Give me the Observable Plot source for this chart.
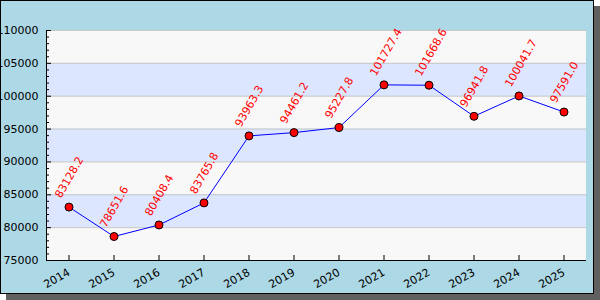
<!DOCTYPE html>
<html>
<head>
<meta charset="utf-8">
<script src="https://cdn.jsdelivr.net/npm/d3@7"></script>
<script src="https://cdn.jsdelivr.net/npm/@observablehq/plot@0.6"></script>
<style>
  html, body { margin: 0; padding: 0; background: #ffffff; }
  #wrap { position: relative; width: 600px; height: 300px; overflow: hidden; }
  #bg { position: absolute; left: 0; top: 0; width: 592px; height: 292px;
        border: 1px solid #000; background: #add8e6; box-shadow: 6px 6px 0 #606060; }
  #chart { position: absolute; left: 0; top: 0; }
</style>
</head>
<body>
<div id="wrap"><div id="bg"></div><div id="chart"></div></div>
<script>
const years = [2014, 2015, 2016, 2017, 2018, 2019, 2020, 2021, 2022, 2023, 2024, 2025];
const values = [83128.2, 78651.6, 80408.4, 83765.8, 93963.3, 94461.2, 95227.8, 101727.4, 101668.6, 96941.8, 100041.7, 97591.0];
const yTicks = [75000, 80000, 85000, 90000, 95000, 100000, 105000, 110000];
const yMinorTicks = d3.range(75000, 110001, 1000).filter(v => v % 5000 !== 0);
const bandColors = ["#f8f8f8", "#dde6ff"];

const data = years.map((year, i) => ({year, value: values[i]}));
const bands = yTicks.slice(0, -1).map((v, i) => ({y1: v, y2: yTicks[i + 1], fill: bandColors[i % 2]}));

const chart = Plot.plot({
  width: 600,
  height: 300,
  marginLeft: 46,
  marginRight: 14,
  marginTop: 30,
  marginBottom: 40,
  style: {background: "transparent", fontFamily: "DejaVu Sans", fontSize: "11px", color: "#000"},
  x: {domain: [2013.5, 2025.5]},
  y: {domain: [75000, 110000]},
  marks: [
    Plot.rect(bands, {y1: "y1", y2: "y2", fill: "fill"}),
    Plot.ruleY(yTicks.slice(1), {stroke: "#c8c8c8", strokeWidth: 1}),
    Plot.ruleX([2013.5], {stroke: "#000", strokeWidth: 1}),
    Plot.ruleY([75000], {stroke: "#000", strokeWidth: 1}),
    Plot.axisY({ticks: yTicks, tickSize: 5, dx: 5, text: null, label: null}),
    Plot.axisY({ticks: yMinorTicks, tickSize: 3, dx: 3, text: null, label: null}),
    Plot.axisY({ticks: yTicks, tickSize: 0, tickPadding: 8, tickFormat: d3.format("d"), label: null, fontSize: 11}),
    Plot.axisX({ticks: years, tickSize: 5, dy: -5, text: null, label: null}),
    Plot.axisX({ticks: years, tickSize: 0, tickPadding: 11, tickRotate: -30, tickFormat: d => String(d), label: null, fontSize: 11}),
    Plot.line(data, {x: "year", y: "value", stroke: "#0000ff", strokeWidth: 1}),
    Plot.dot(data, {x: "year", y: "value", r: 4, fill: "#ff0000", stroke: "#000", strokeWidth: 1}),
    Plot.text(data, {x: "year", y: "value", text: d => d.value.toFixed(1), rotate: -60, textAnchor: "start", fill: "#ff0000", dx: -11, dy: -10, fontSize: 11})
  ]
});
document.getElementById("chart").appendChild(chart);
</script>
</body>
</html>
